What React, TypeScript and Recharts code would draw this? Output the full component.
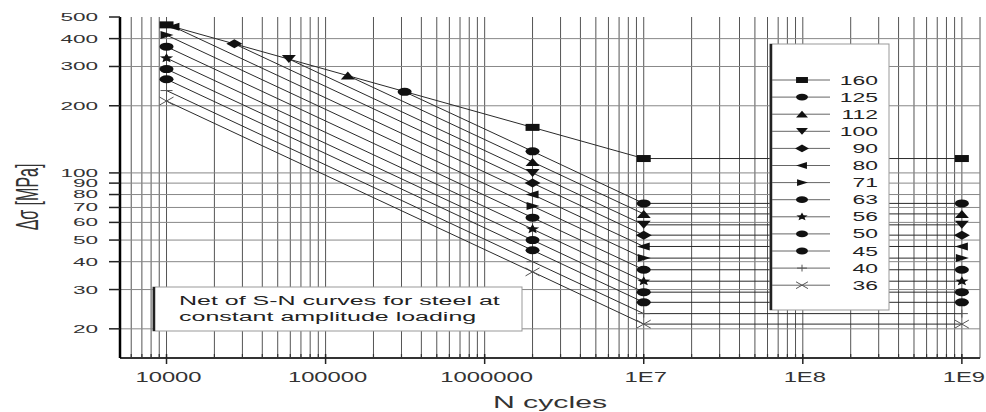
import React from 'react';
import { ScatterChart, Scatter, XAxis, YAxis, CartesianGrid } from 'recharts';

// detail categories (stress range at 2 million cycles, MPa)
const categories = [160, 125, 112, 100, 90, 80, 71, 63, 56, 50, 45, 40, 36];
const markerKinds = [
  'square', 'circle', 'up', 'down', 'diamond', 'left', 'right',
  'circle', 'star', 'circle', 'circle', 'plus', 'cross',
];
// first point of each curve (start at 1E4 or where it meets the 160 curve)
const startCycles = [10000, 314000, 138000, 58800, 26700, 11050, 10000, 10000, 10000, 10000, 10000, 10000, 10000];
const startStress = [461, 231, 273, 324, 379, 452, 415, 368, 327, 292, 263, 234, 210];
const refCycles = 2000000;
const limitCycles = 10000000;
const limitStress = [116, 73, 65.5, 58.5, 52.6, 46.8, 41.5, 36.8, 32.7, 29.2, 26.3, 23.4, 21];
const endCycles = 1000000000;

const xMajor = [1e4, 1e5, 1e6, 1e7, 1e8, 1e9];
const xLabels = ['10000', '100000', '1000000', '1E7', '1E8', '1E9'];
const yTicks = [20, 30, 40, 50, 60, 70, 80, 90, 100, 200, 300, 400, 500];
const yGrid = [20, 30, 40, 50, 60, 70, 80, 90, 100, 200, 300, 400];

const xTicks: number[] = [6000, 7000, 8000, 9000];
xMajor.forEach((d) => {
  for (let k = 1; k <= 9; k++) {
    if (d === 1e9 && k > 1) break;
    xTicks.push(d * k);
  }
});

const series = categories.map((c, i) => ({
  name: String(c),
  kind: markerKinds[i],
  data: [
    { n: startCycles[i], s: startStress[i] },
    { n: refCycles, s: c },
    { n: limitCycles, s: limitStress[i] },
    { n: endCycles, s: limitStress[i] },
  ],
}));

const FONT = '"Liberation Sans", Arial, sans-serif';
const INK = '#111';

function Marker({ kind, cx, cy, s = 1 }: { kind: string; cx: number; cy: number; s?: number }) {
  const a = 7 * s;
  const b = 4 * s;
  switch (kind) {
    case 'square':
      return <rect x={cx - a} y={cy - 3.5 * s} width={2 * a} height={7 * s} fill={INK} />;
    case 'circle':
      return <ellipse cx={cx} cy={cy} rx={a} ry={b} fill={INK} />;
    case 'up':
      return <polygon points={`${cx - a},${cy + b} ${cx + a},${cy + b} ${cx},${cy - b}`} fill={INK} />;
    case 'down':
      return <polygon points={`${cx - a},${cy - b} ${cx + a},${cy - b} ${cx},${cy + b}`} fill={INK} />;
    case 'diamond':
      return <polygon points={`${cx - a - 1},${cy} ${cx},${cy - b - 0.5} ${cx + a + 1},${cy} ${cx},${cy + b + 0.5}`} fill={INK} />;
    case 'left':
      return <polygon points={`${cx - a},${cy} ${cx + a - 1},${cy - b} ${cx + a - 1},${cy + b}`} fill={INK} />;
    case 'right':
      return <polygon points={`${cx + a},${cy} ${cx - a + 1},${cy - b} ${cx - a + 1},${cy + b}`} fill={INK} />;
    case 'star': {
      const pts: string[] = [];
      for (let k = 0; k < 10; k++) {
        const ang = -Math.PI / 2 + (k * Math.PI) / 5;
        const r = k % 2 === 0 ? 1 : 0.45;
        pts.push(`${cx + Math.cos(ang) * r * a},${cy + Math.sin(ang) * r * (b + 1)}`);
      }
      return <polygon points={pts.join(' ')} fill={INK} />;
    }
    case 'plus':
      return (
        <g stroke="#555" strokeWidth={1}>
          <line x1={cx - a + 1} x2={cx + a - 1} y1={cy} y2={cy} />
          <line x1={cx} x2={cx} y1={cy - b} y2={cy + b} />
        </g>
      );
    case 'cross':
      return (
        <g stroke="#555" strokeWidth={1}>
          <line x1={cx - a} x2={cx + a} y1={cy - b} y2={cy + b} />
          <line x1={cx - a} x2={cx + a} y1={cy + b} y2={cy - b} />
        </g>
      );
    default:
      return null;
  }
}

const YTick = ({ x, y, payload }: any) => (
  <g>
    <line x1={x - 11} x2={x} y1={y} y2={y} stroke="#222" strokeWidth={1.5} />
    <text
      transform={`translate(${x - 22},${y}) scale(2.05,1)`}
      textAnchor="end"
      dy="0.36em"
      fontSize={11}
      fontFamily={FONT}
      fill="#333"
    >
      {payload.value}
    </text>
  </g>
);

const XTick = ({ x, y, payload }: any) => {
  const i = xMajor.indexOf(payload.value);
  if (i < 0) {
    return <line x1={x} x2={x} y1={y - 4} y2={y} stroke="#333" strokeWidth={1.2} />;
  }
  return (
    <g>
      <line x1={x} x2={x} y1={y - 4} y2={y + 6} stroke="#222" strokeWidth={1.5} />
      <text
        transform={`translate(${x + 2},${y + 24}) scale(1.7,1)`}
        textAnchor="middle"
        fontSize={14}
        fontFamily={FONT}
        fill="#333"
      >
        {xLabels[i]}
      </text>
    </g>
  );
};

function Overlay() {
  const legendTop = 80;
  const step = 17.1;
  return (
    <svg
      width={986}
      height={412}
      style={{ position: 'absolute', left: 0, top: 0, pointerEvents: 'none' }}
    >
      <text
        transform="translate(27,197) scale(2,1) rotate(-90)"
        textAnchor="middle"
        dominantBaseline="central"
        fontSize={16}
        fontFamily={FONT}
        fill="#333"
      >
        Δσ [MPa]
      </text>
      <text
        transform="translate(550,408) scale(1.89,1)"
        textAnchor="middle"
        fontSize={16}
        fontFamily={FONT}
        fill="#333"
      >
        N cycles
      </text>

      {/* note box */}
      <rect x={153} y={287} width={369} height={44} fill="#fff" stroke="#999" strokeWidth={1} />
      <line x1={154} x2={154} y1={287} y2={331} stroke="#222" strokeWidth={2.5} />
      <text transform="translate(179,305) scale(2,1)" fontSize={12.5} fontFamily={FONT} fill="#222">
        Net of S-N curves for steel at
      </text>
      <text transform="translate(179,321) scale(2,1)" fontSize={12.5} fontFamily={FONT} fill="#222">
        constant amplitude loading
      </text>

      {/* legend */}
      <rect x={770} y={44} width={119} height={266} fill="#fff" stroke="#999" strokeWidth={1} />
      <line x1={771} x2={771} y1={44} y2={310} stroke="#222" strokeWidth={2.5} />
      {series.map((sr, i) => {
        const y = legendTop + i * step;
        return (
          <g key={sr.name}>
            <line x1={772} x2={830} y1={y} y2={y} stroke="#666" strokeWidth={1} />
            <Marker kind={sr.kind} cx={802} cy={y} s={0.85} />
            <text
              transform={`translate(878,${y + 4.5}) scale(1.83,1)`}
              textAnchor="end"
              fontSize={12.5}
              fontFamily={FONT}
              fill="#222"
            >
              {sr.name}
            </text>
          </g>
        );
      })}
    </svg>
  );
}

export default function App() {
  return (
    <div style={{ position: 'absolute', left: 0, top: 0, width: 986, height: 412, background: '#fff' }}>
      <ScatterChart width={986} height={412} margin={{ top: 17, right: 6, bottom: 0, left: 0 }}>
        <CartesianGrid horizontal={false} stroke="#555" strokeWidth={1} />
        <CartesianGrid vertical={false} stroke="#888" strokeWidth={1} horizontalValues={yGrid} />
        <XAxis
          type="number"
          dataKey="n"
          scale="log"
          domain={[5100, 1.3e9]}
          allowDataOverflow
          ticks={xTicks}
          interval={0}
          tick={(p: any) => <XTick {...p} />}
          tickLine={false}
          tickSize={0}
          tickMargin={0}
          height={54}
          axisLine={{ stroke: '#333', strokeWidth: 2 }}
        />
        <YAxis
          type="number"
          dataKey="s"
          scale="log"
          domain={[14.8, 500]}
          allowDataOverflow
          ticks={yTicks}
          interval={0}
          tick={(p: any) => <YTick {...p} />}
          tickLine={false}
          tickSize={0}
          tickMargin={0}
          width={120}
          axisLine={{ stroke: '#000', strokeWidth: 2.5 }}
        />
        {series.map((sr) => (
          <Scatter
            key={sr.name}
            name={sr.name}
            data={sr.data}
            line={{ stroke: '#2a2a2a', strokeWidth: 1 }}
            lineType="joint"
            shape={(p: any) => <Marker kind={sr.kind} cx={p.cx} cy={p.cy} />}
            isAnimationActive={false}
          />
        ))}
      </ScatterChart>
      <Overlay />
    </div>
  );
}
